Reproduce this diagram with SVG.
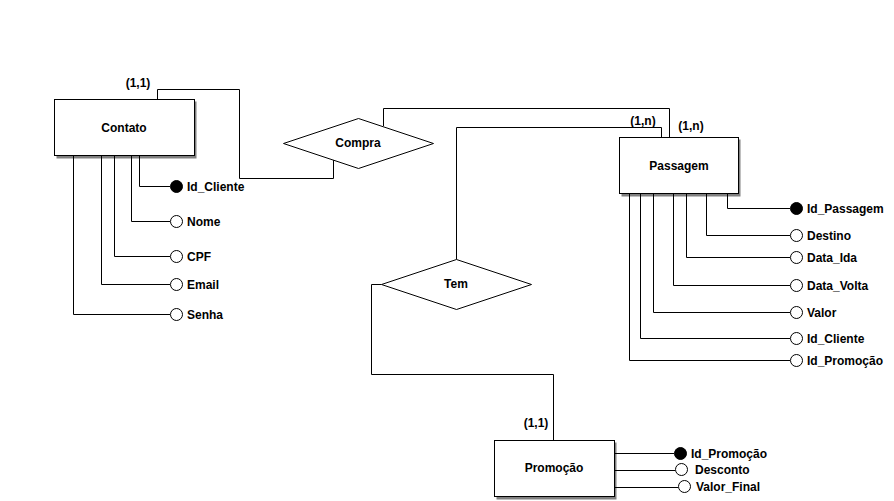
<svg xmlns="http://www.w3.org/2000/svg" width="894" height="501" viewBox="0 0 894 501">
  <style>
    text { font-family: "Liberation Sans", Arial, sans-serif; font-weight: bold; font-size: 12px; fill: #000; }
    .lbl { text-anchor: middle; dominant-baseline: central; }
    .attr { dominant-baseline: central; }
    .ent { fill: #fff; stroke: #000; stroke-width: 1; }
    .shadow { fill: #808080; }
    .rel { fill: #fff; stroke: #000; stroke-width: 1; }
    .wire { fill: none; stroke: #000; stroke-width: 1; }
    .key { fill: #000; stroke: #000; stroke-width: 1; }
    .opt { fill: #fff; stroke: #000; stroke-width: 1; }
  </style>
  <rect width="894" height="501" fill="#fff"/>

  <!-- connectors between entities and relationships -->
  <g id="connectors">
    <polyline class="wire" points="157.5,99.5 157.5,89.5 239.5,89.5 239.5,178.5 333.5,178.5 333.5,160"/>
    <polyline class="wire" points="383.5,126 383.5,108.5 669.5,108.5 669.5,137.5"/>
    <polyline class="wire" points="456.5,259.5 456.5,127.5 661.5,127.5 661.5,137.5"/>
    <polyline class="wire" points="381.5,284.5 371.5,284.5 371.5,374.5 553.5,374.5 553.5,440.5"/>
    <text x="138" y="83" class="lbl">(1,1)</text>
    <text x="643" y="121" class="lbl">(1,n)</text>
    <text x="691" y="126" class="lbl">(1,n)</text>
    <text x="536" y="423" class="lbl">(1,1)</text>
  </g>

  <!-- Contato entity with attributes -->
  <g id="contato">
    <rect class="shadow" x="56.5" y="101.5" width="140" height="57"/>
    <rect class="ent" x="54.5" y="99.5" width="140" height="56"/>
    <text x="124" y="128" class="lbl">Contato</text>
    <polyline class="wire" points="139.5,155.5 139.5,186.5 170,186.5"/>
    <circle class="key" cx="176.5" cy="186.5" r="6"/>
    <text x="187" y="186.5" class="attr">Id_Cliente</text>
    <polyline class="wire" points="131.5,155.5 131.5,221.5 170,221.5"/>
    <circle class="opt" cx="176.5" cy="221.5" r="6"/>
    <text x="187" y="221.5" class="attr">Nome</text>
    <polyline class="wire" points="114.5,155.5 114.5,256.5 170,256.5"/>
    <circle class="opt" cx="176.5" cy="256.5" r="6"/>
    <text x="187" y="256.5" class="attr">CPF</text>
    <polyline class="wire" points="101.5,155.5 101.5,284.5 170,284.5"/>
    <circle class="opt" cx="176.5" cy="284.5" r="6"/>
    <text x="187" y="284.5" class="attr">Email</text>
    <polyline class="wire" points="73.5,155.5 73.5,314.5 170,314.5"/>
    <circle class="opt" cx="176.5" cy="314.5" r="6"/>
    <text x="187" y="314.5" class="attr">Senha</text>
  </g>

  <!-- Compra relationship -->
  <g id="compra">
    <polygon class="rel" points="283.5,143.5 358.5,118.5 433.5,143.5 358.5,168.5"/>
    <text x="358" y="143" class="lbl">Compra</text>
  </g>

  <!-- Tem relationship -->
  <g id="tem">
    <polygon class="rel" points="381.5,284.5 456.5,259.5 531.5,284.5 456.5,309.5"/>
    <text x="456" y="284" class="lbl">Tem</text>
  </g>

  <!-- Passagem entity with attributes -->
  <g id="passagem">
    <rect class="shadow" x="621.5" y="139.5" width="119" height="57"/>
    <rect class="ent" x="619.5" y="137.5" width="119" height="56"/>
    <text x="679" y="166" class="lbl">Passagem</text>
    <polyline class="wire" points="727.5,193.5 727.5,208.5 790,208.5"/>
    <circle class="key" cx="796.5" cy="208.5" r="6"/>
    <text x="807" y="208.5" class="attr">Id_Passagem</text>
    <polyline class="wire" points="706.5,193.5 706.5,235.5 790,235.5"/>
    <circle class="opt" cx="796.5" cy="235.5" r="6"/>
    <text x="807" y="235.5" class="attr">Destino</text>
    <polyline class="wire" points="686.5,193.5 686.5,257.5 790,257.5"/>
    <circle class="opt" cx="796.5" cy="257.5" r="6"/>
    <text x="807" y="257.5" class="attr">Data_Ida</text>
    <polyline class="wire" points="673.5,193.5 673.5,285.5 790,285.5"/>
    <circle class="opt" cx="796.5" cy="285.5" r="6"/>
    <text x="807" y="285.5" class="attr">Data_Volta</text>
    <polyline class="wire" points="653.5,193.5 653.5,312.5 790,312.5"/>
    <circle class="opt" cx="796.5" cy="312.5" r="6"/>
    <text x="807" y="312.5" class="attr">Valor</text>
    <polyline class="wire" points="640.5,193.5 640.5,338.5 790,338.5"/>
    <circle class="opt" cx="796.5" cy="338.5" r="6"/>
    <text x="807" y="338.5" class="attr">Id_Cliente</text>
    <polyline class="wire" points="629.5,193.5 629.5,360.5 790,360.5"/>
    <circle class="opt" cx="796.5" cy="360.5" r="6"/>
    <text x="807" y="360.5" class="attr">Id_Promoção</text>
  </g>

  <!-- Promoção entity with attributes -->
  <g id="promocao">
    <rect class="shadow" x="496.5" y="442.5" width="120" height="57"/>
    <rect class="ent" x="494.5" y="440.5" width="120" height="56"/>
    <text x="554" y="468" class="lbl">Promoção</text>
    <line class="wire" x1="614.5" y1="453.5" x2="674" y2="453.5"/>
    <circle class="key" cx="680.5" cy="453.5" r="6"/>
    <text x="691" y="453.5" class="attr">Id_Promoção</text>
    <line class="wire" x1="614.5" y1="470.5" x2="675" y2="470.5"/>
    <circle class="opt" cx="681.5" cy="469.5" r="6"/>
    <text x="695" y="469.5" class="attr">Desconto</text>
    <line class="wire" x1="614.5" y1="487.5" x2="678" y2="487.5"/>
    <circle class="opt" cx="684.5" cy="486.5" r="6"/>
    <text x="696" y="486.5" class="attr">Valor_Final</text>
  </g>
</svg>
